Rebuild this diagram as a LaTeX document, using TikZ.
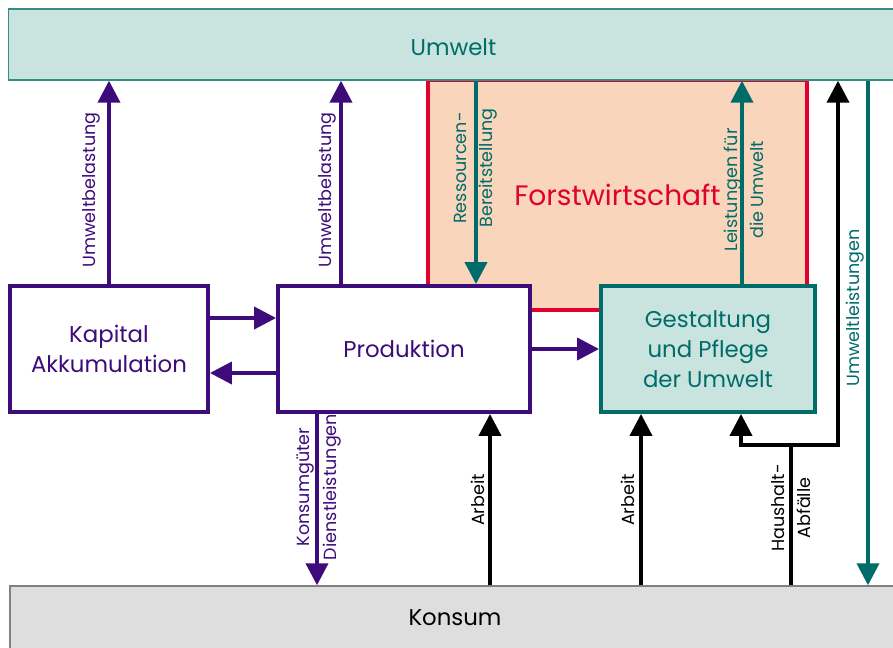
\documentclass[tikz,border=0pt]{standalone}
\usepackage{fontspec}
\setmainfont{Poppins}
\usepackage{xcolor}
\usepackage{tikz}
\usetikzlibrary{positioning, arrows.meta}
\definecolor{purple(dark)}{RGB}{62,12,122}
\definecolor{teal(dark)}{RGB}{0,108,106}
\definecolor{teal(light)}{RGB}{201,228,223}
\definecolor{teal(border)}{RGB}{52,140,135}
\definecolor{crimson}{RGB}{226,0,44}
\definecolor{peach}{RGB}{248,213,187}
\definecolor{gray(light)}{RGB}{222,222,222}
\tikzset{
    block/.style={
        draw, fill = white, line width = 2.2pt,
        minimum height = 2.52cm,
        align = center,
        font = \fontsize{13}{17}\selectfont
    },
    band/.style = {draw, line width = 0.8pt, minimum width = 17.8cm, font = \fontsize{13}{17}\selectfont},
    lbl/.style = {rotate = 90, align = center, inner sep = 0pt, font = \fontsize{10}{15}\selectfont},
    line/.style = {-{Triangle[length=0.44cm, width=0.44cm]}, line width = 2.2pt}
}

\begin{document}
\begin{tikzpicture}[x=0.02cm, y=-0.02cm]

    % Page
    \clip (0,0) rectangle (893,648);

    % Forestry
    \node[draw = crimson, fill = peach, line width = 2.2pt,
        minimum width = 7.58cm, minimum height = 4.6cm,
        text = crimson, font = \fontsize{16}{18}\selectfont] (forst) at (617.5,195) {Forstwirtschaft};

    % Environment and consumption
    \node[band, fill = teal(light), draw = teal(border), text = teal(dark), minimum height = 1.42cm, text height = 0.46cm] (umwelt) at (453.5,44.5) {Umwelt};
    \node[band, fill = gray(light), draw = gray, text = black, minimum height = 1.28cm] (konsum) at (455,618) {Konsum};

    % Blocks
    \node[block, draw = purple(dark), text = purple(dark), minimum width = 3.96cm] (kapital) at (109,349) {Kapital\\Akkumulation};
    \node[block, draw = purple(dark), text = purple(dark), minimum width = 5.04cm] (produktion) at (404,349) {Produktion};
    \node[block, draw = teal(dark), fill = teal(light), text = teal(dark), minimum width = 4.28cm] (gestaltung) at (708,349) {Gestaltung\\und Pflege\\der Umwelt};

    % Purple flows
    \draw[line, purple(dark)] (kapital.north) -- (kapital.north |- umwelt.south);
    \draw[line, purple(dark)] (341,0 |- produktion.north) -- (341,0 |- umwelt.south);
    \draw[line, purple(dark)] (kapital.east |- 0,318) -- (produktion.west |- 0,318);
    \draw[line, purple(dark)] (produktion.west |- 0,373) -- (kapital.east |- 0,373);
    \draw[line, purple(dark)] (produktion.east) -- (gestaltung.west);
    \draw[line, purple(dark)] (317,0 |- produktion.south) -- (317,0 |- konsum.north);

    % Teal flows
    \draw[line, teal(dark)] (476,0 |- umwelt.south) -- (476,0 |- produktion.north);
    \draw[line, teal(dark)] (742,0 |- gestaltung.north) -- (742,0 |- umwelt.south);
    \draw[line, teal(dark)] (868,0 |- umwelt.south) -- (868,0 |- konsum.north);

    % Black flows
    \draw[line, black] (490,0 |- konsum.north) -- (490,0 |- produktion.south);
    \draw[line, black] (641,0 |- konsum.north) -- (641,0 |- gestaltung.south);
    \coordinate (abzweig) at (791,445);
    \draw[line width = 2.2pt, black] (791,0 |- konsum.north) -- (abzweig);
    \draw[line, black] (abzweig) -| (741,0 |- gestaltung.south);
    \draw[line, black] (abzweig) -| (838,0 |- umwelt.south);

    % Labels
    \node[lbl, text = purple(dark)] (belastungA) at (91,190) {Umweltbelastung};
    \node[lbl, text = purple(dark)] (belastungB) at (327,190) {Umweltbelastung};
    \node[lbl, text = purple(dark)] (konsumgueter) at (319,487) {Konsumgüter\\Dienstleistungen};
    \node[lbl, text = teal(dark)] (ressourcen) at (476,168) {Ressourcen-\\Bereitstellung};
    \node[lbl, text = teal(dark)] (leistungen) at (744,190) {Leistungen für\\die Umwelt};
    \node[lbl, text = teal(dark)] (umweltleistungen) at (855,308) {Umweltleistungen};
    \node[lbl, text = black] (arbeitA) at (478,500) {Arbeit};
    \node[lbl, text = black] (arbeitB) at (628,500) {Arbeit};
    \node[lbl, text = black] (abfaelle) at (791,508) {Haushalt-\\Abfälle};

\end{tikzpicture}
\end{document}
